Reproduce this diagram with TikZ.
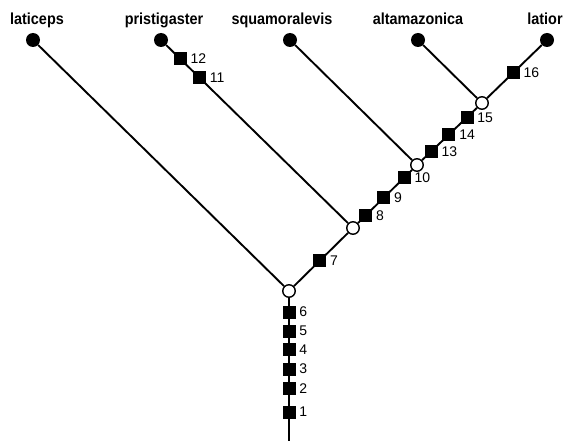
\documentclass[tikz,border=0pt]{standalone}
\usepackage{fontspec}
\setmainfont{Liberation Sans}
\newfontfamily\namefont{Liberation Sans}[FakeStretch=0.9]
\usetikzlibrary{calc}
\tikzstyle{taxon} = [circle, fill=black, inner sep=0pt, minimum size=14pt]
\tikzstyle{split} = [circle, draw=black, fill=white, line width=1.4pt,
    inner sep=0pt, minimum size=12.5pt]
\tikzstyle{apo} = [rectangle, fill=black, inner sep=0pt, minimum size=13pt,
    label={[font=\fontsize{14}{14}\selectfont, inner sep=0pt, label distance=3.5pt]right:#1}]
\tikzstyle{taxname} = [font=\namefont\bfseries\fontsize{16}{16}\selectfont, anchor=base, inner sep=0pt]
\tikzstyle{branch} = [line width=1.9pt]

\begin{document}
\begin{tikzpicture}[x=1pt,y=-1pt]
\useasboundingbox (0,0) rectangle (563,441);
                \node[taxon] (laticeps) at (33,40) {};
                \node[taxon] (pristigaster) at (161,40) {};
                \node[taxon] (squamoralevis) at (290,40) {};
                \node[taxon] (altamazonica) at (418,40) {};
                \node[taxon] (latior) at (547,40) {};
                \node[taxname] (laticepsname) at (37,25) {laticeps};
                \node[taxname] (pristigastername) at (164,25) {pristigaster};
                \node[taxname] (squamoralevisname) at (282,25) {squamoralevis};
                \node[taxname] (altamazonicaname) at (418,25) {altamazonica};
                \node[taxname] (latiorname) at (545,25) {latior};
                \node[split] (n1) at (289,291) {};
                \node[split] (n2) at (353,228) {};
                \node[split] (n3) at (417,165) {};
                \node[split] (n4) at (482,103) {};
                \coordinate (base) at (289,441);
                \draw[branch] (base) -- (n1) -- (laticeps);
                \draw[branch] (n1) -- (n2) -- (pristigaster);
                \draw[branch] (n2) -- (n3) -- (squamoralevis);
                \draw[branch] (n3) -- (n4) -- (altamazonica);
                \draw[branch] (n4) -- (latior);
                \foreach \k/\t in {1/0.807, 2/0.653, 3/0.52, 4/0.393, 5/0.267, 6/0.14}
                    \node[apo=\k] (a\k) at ($(n1)!\t!(base)$) {};
                \node[apo=7] (a7) at ($(n1)!0.48!(n2)$) {};
                \foreach \k/\t in {8/0.2, 9/0.48, 10/0.8}
                    \node[apo=\k] (a\k) at ($(n2)!\t!(n3)$) {};
                \node[apo=11] (a11) at ($(n2)!0.8!(pristigaster)$) {};
                \node[apo=12] (a12) at ($(n2)!0.9!(pristigaster)$) {};
                \foreach \k/\t in {13/0.22, 14/0.49, 15/0.77}
                    \node[apo=\k] (a\k) at ($(n3)!\t!(n4)$) {};
                \node[apo=16] (a16) at ($(n4)!0.48!(latior)$) {};
            \end{tikzpicture}
\end{document}
